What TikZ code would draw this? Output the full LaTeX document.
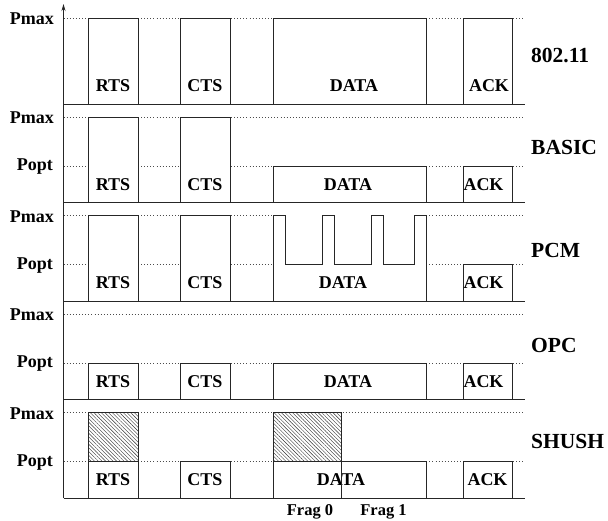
\documentclass[tikz,border=0pt]{standalone}
\usepackage{fontspec}
\setmainfont{Liberation Serif}
\usetikzlibrary{patterns.meta,arrows.meta}
\tikzset{
  dotline/.style={line width=0.7pt,dash pattern=on 0.8pt off 2.3pt,black!70},
  frame/.style={draw=black!85,line width=0.9pt,fill=white},
  hatchbox/.style={draw=black!85,line width=0.9pt,pattern={Lines[angle=-45,distance=2.6pt,line width=0.4pt]},pattern color=black!80},
  baseln/.style={black!85,line width=0.9pt},
  lbl/.style={font=\fontsize{18}{20}\selectfont\bfseries,inner sep=0pt},
  plbl/.style={font=\fontsize{18}{20}\selectfont\bfseries,inner sep=0pt,anchor=east},
  rlbl/.style={font=\fontsize{21.5}{24}\selectfont\bfseries,inner sep=0pt,anchor=west},
  flbl/.style={font=\fontsize{16.5}{18}\selectfont\bfseries,inner sep=0pt},
}
\begin{document}
\begin{tikzpicture}[x=1pt,y=-1pt]
\useasboundingbox (0,0) rectangle (608,521);
% ---------- dotted level lines ----------
\draw[dotline] (63.5,18.5) -- (525,18.5);
\draw[dotline] (63.5,117) -- (525,117);
\draw[dotline] (63.5,166) -- (525,166);
\draw[dotline] (63.5,215.5) -- (525,215.5);
\draw[dotline] (63.5,264.5) -- (525,264.5);
\draw[dotline] (63.5,314) -- (525,314);
\draw[dotline] (63.5,363) -- (525,363);
\draw[dotline] (63.5,412.5) -- (525,412.5);
\draw[dotline] (63.5,461.5) -- (525,461.5);
% ---------- panel 1 : 802.11 ----------
\draw[frame] (88.5,104) rectangle (138,18.5);
\draw[frame] (180.5,104) rectangle (230,18.5);
\draw[frame] (273,104) rectangle (426,18.5);
\draw[frame] (463,104) rectangle (512,18.5);
\node[lbl] (rts1) at (113,86) {RTS};
\node[lbl] (cts1) at (205,86) {CTS};
\node[lbl] (data1) at (354,86) {DATA};
\node[lbl] (ack1) at (489,86) {ACK};
\node[plbl] (pmax1) at (54,19) {Pmax};
\node[rlbl] (n80211) at (531,55.5) {802.11};
% ---------- panel 2 : BASIC ----------
\draw[frame] (88.5,202.5) rectangle (138,117);
\draw[frame] (180.5,202.5) rectangle (230,117);
\draw[frame] (273,202.5) rectangle (426,166);
\draw[frame] (463,202.5) rectangle (512,166);
\node[lbl] (rts2) at (113,184.5) {RTS};
\node[lbl] (cts2) at (205,184.5) {CTS};
\node[lbl] (data2) at (348,184.5) {DATA};
\node[lbl] (ack2) at (483.5,184.5) {ACK};
\node[plbl] (pmax2) at (54,118) {Pmax};
\node[plbl] (popt2) at (53,167) {Popt};
\node[rlbl] (basic) at (531,147) {BASIC};
% ---------- panel 3 : PCM ----------
\draw[frame] (88.5,301) rectangle (138,215.5);
\draw[frame] (180.5,301) rectangle (230,215.5);
\fill[white] (273,301) rectangle (426,215.5);
\draw[draw=black!85,line width=0.9pt] (273,301) -- (273,215.5) -- (285,215.5) -- (285,264.5)
  -- (322,264.5) -- (322,215.5) -- (334,215.5) -- (334,264.5)
  -- (371,264.5) -- (371,215.5) -- (383,215.5) -- (383,264.5)
  -- (414,264.5) -- (414,215.5) -- (426,215.5) -- (426,301);
\draw[frame] (463,301) rectangle (512,264.5);
\node[lbl] (rts3) at (113,283) {RTS};
\node[lbl] (cts3) at (205,283) {CTS};
\node[lbl] (data3) at (343,283) {DATA};
\node[lbl] (ack3) at (483.5,283) {ACK};
\node[plbl] (pmax3) at (54,216.5) {Pmax};
\node[plbl] (popt3) at (53,266) {Popt};
\node[rlbl] (pcm) at (531,250) {PCM};
% ---------- panel 4 : OPC ----------
\draw[frame] (88.5,399.5) rectangle (138,363);
\draw[frame] (180.5,399.5) rectangle (230,363);
\draw[frame] (273,399.5) rectangle (426,363);
\draw[frame] (463,399.5) rectangle (512,363);
\node[lbl] (rts4) at (113,381.5) {RTS};
\node[lbl] (cts4) at (205,381.5) {CTS};
\node[lbl] (data4) at (348,381.5) {DATA};
\node[lbl] (ack4) at (483.5,381.5) {ACK};
\node[plbl] (pmax4) at (54,315) {Pmax};
\node[plbl] (popt4) at (53,364) {Popt};
\node[rlbl] (opc) at (531,345) {OPC};
% ---------- panel 5 : SHUSH ----------
\fill[white] (88.5,461.5) rectangle (138,412.5);
\draw[hatchbox] (88.5,461.5) rectangle (138,412.5);
\draw[frame] (88.5,498) rectangle (138,461.5);
\draw[frame] (180.5,498) rectangle (230,461.5);
\draw[frame] (273,498) rectangle (426,461.5);
\fill[white] (273,461.5) rectangle (341,412.5);
\draw[hatchbox] (273,461.5) rectangle (341,412.5);
\draw[frame] (463,498) rectangle (512,461.5);
\node[lbl] (rts5) at (113,480) {RTS};
\node[lbl] (cts5) at (205,480) {CTS};
\node[lbl] (data5) at (341,480) {DATA};
\draw[draw=black!85,line width=0.9pt] (341,461.5) -- (341,498);
\node[lbl] (ack5) at (487.5,480) {ACK};
\node[plbl] (pmax5) at (54,413.5) {Pmax};
\node[plbl] (popt5) at (53,463) {Popt};
\node[rlbl] (shush) at (531,441) {SHUSH};
\node[flbl] (frag0) at (310,512) {Frag 0};
\node[flbl] (frag1) at (383.5,512) {Frag 1};
% ---------- baselines ----------
\draw[baseln] (63.5,104) -- (525,104);
\draw[baseln] (63.5,202.5) -- (525,202.5);
\draw[baseln] (63.5,301) -- (525,301);
\draw[baseln] (63.5,399.5) -- (525,399.5);
\draw[baseln] (63.5,498) -- (525,498);
% ---------- axis ----------
\coordinate (axbot) at (63.5,498);
\coordinate (axtop) at (63.5,4);
\draw[baseln,-{Stealth[length=7pt,width=4pt]}] (axbot) -- (axtop);
\end{tikzpicture}
\end{document}
